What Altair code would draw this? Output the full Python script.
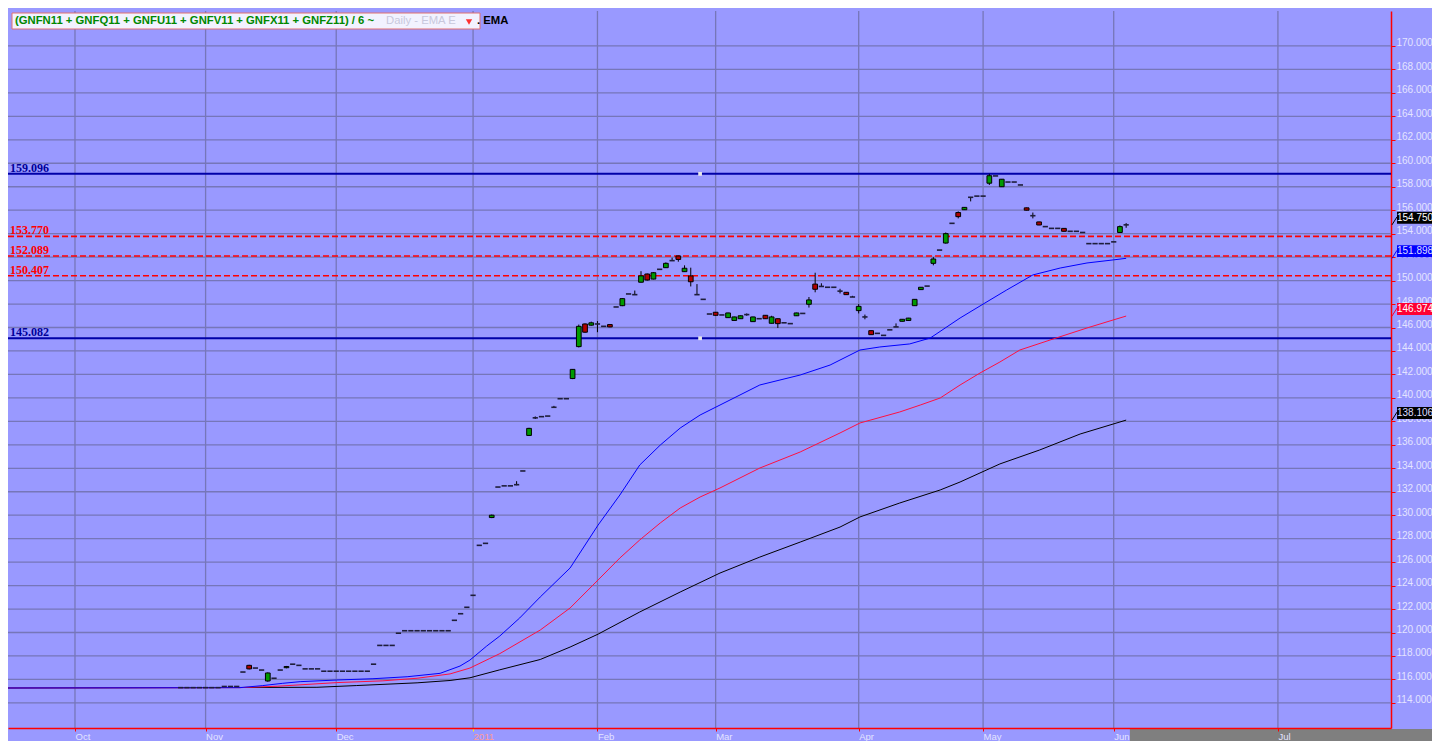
import altair as alt
import pandas as pd

# ---------------- data ----------------
# trading-day index: 0 = 1 Oct 2010 (one slot per trading day)
first_day = 17
c_open = [115.3,115.3,115.3,115.3,115.3,115.3,115.3,115.4,115.4,115.4,
          116.63,117.2,116.97,116.8,115.87,116.1,116.8,117.0,117.3,117.2,
          116.9,116.9,116.9,116.7,116.7,116.7,116.7,116.7,116.7,116.7,
          116.7,117.3,118.9,118.9,118.9,119.94,120.15,120.15,120.15,120.15,
          120.15,120.15,120.15,120.15,121.04,121.6,122.15,123.17,127.43,127.6,
          129.8,132.4,132.5,132.5,132.6,133.77,136.8,138.3,138.4,138.45,
          139.2,139.93,139.93,141.65,144.37,146.3,146.2,146.3,146.1,146.25,
          147.75,147.86,148.86,148.8,149.86,150.56,150.13,150.96,151.1,151.7,
          152.1,150.76,150.4,148.8,148.4,147.15,147.3,147.07,146.84,146.6,
          146.75,147.1,146.5,146.75,147.04,146.36,146.75,146.4,146.33,147.0,
          147.2,147.98,149.7,149.5,149.43,149.43,149.1,149.0,148.6,147.44,
          146.9,145.73,145.5,145.33,145.8,146.05,146.53,146.6,147.86,149.23,
          149.53,151.47,152.6,153.2,154.88,155.8,156.04,157.1,157.2,157.2,
          158.3,158.92,158.0,158.4,158.4,158.15,156.2,155.53,155.0,154.6,
          154.45,154.45,154.45,154.2,154.2,154.1,153.15,153.15,153.15,153.15,
          153.3,154.1,154.75]
c_high = [115.3,115.3,115.3,115.3,115.3,115.3,115.3,115.4,115.4,115.4,
          116.63,117.25,116.97,116.8,116.6,116.1,116.8,117.15,117.3,117.2,
          116.9,116.9,116.9,116.7,116.7,116.7,116.7,116.7,116.7,116.7,
          116.7,117.3,118.9,118.9,118.9,119.94,120.15,120.15,120.15,120.15,
          120.15,120.15,120.15,120.15,121.04,121.6,122.15,123.17,127.43,127.6,
          130.05,132.4,132.5,132.5,132.9,133.77,137.45,138.42,138.4,138.45,
          139.32,139.93,139.93,142.45,146.25,146.35,146.5,146.55,146.1,146.28,
          147.75,148.5,148.86,149.15,150.8,150.6,150.72,150.96,151.55,151.95,
          152.12,151.3,151.1,149.7,148.4,147.15,147.32,147.07,147.26,146.92,
          147.02,147.2,146.92,146.75,147.06,147.0,146.77,146.4,146.33,147.26,
          147.2,148.6,150.67,149.77,149.43,149.43,149.3,149.02,148.7,148.0,
          147.1,145.75,145.5,145.33,145.8,146.35,146.72,146.82,148.42,149.45,
          149.53,152.0,152.6,154.1,154.88,155.9,156.26,157.1,157.2,157.2,
          159.1,158.92,158.66,158.4,158.4,158.15,156.22,155.8,155.02,154.6,
          154.45,154.45,154.47,154.2,154.2,154.1,153.15,153.15,153.15,153.15,
          153.3,154.7,154.9]
c_low = [115.3,115.3,115.3,115.3,115.3,115.3,115.3,115.4,115.4,115.4,
         116.63,116.85,116.97,116.8,115.8,116.1,116.8,116.95,117.3,117.2,
         116.9,116.9,116.9,116.7,116.7,116.7,116.7,116.7,116.7,116.7,
         116.7,117.3,118.9,118.9,118.9,119.94,120.15,120.15,120.15,120.15,
         120.15,120.15,120.15,120.15,121.04,121.6,122.15,123.17,127.43,127.6,
         129.75,132.4,132.5,132.5,132.55,133.77,136.75,138.2,138.4,138.45,
         139.2,139.93,139.93,141.6,144.3,145.55,146.15,145.6,146.1,146.02,
         147.75,147.82,148.86,148.8,149.84,150.0,150.1,150.96,151.08,151.7,
         151.61,150.74,149.5,148.8,148.4,147.15,147.02,147.07,146.82,146.58,
         146.73,147.0,146.48,146.75,146.73,146.34,145.96,146.4,146.33,146.98,
         147.2,147.7,149.0,149.5,149.43,149.43,148.9,148.78,148.6,147.2,
         146.7,145.37,145.5,145.33,145.8,146.05,146.51,146.58,147.84,149.21,
         149.53,151.3,152.6,153.15,154.88,155.3,156.02,156.75,157.2,157.2,
         158.15,158.92,157.98,158.4,158.4,158.15,155.98,155.3,154.72,154.6,
         154.45,154.45,154.18,154.2,154.2,154.1,153.15,153.15,153.15,153.15,
         153.3,154.08,154.5]
c_close = [115.3,115.3,115.3,115.3,115.3,115.3,115.3,115.4,115.4,115.4,
           116.63,116.9,116.97,116.8,116.55,116.1,116.8,117.1,117.3,117.2,
           116.9,116.9,116.9,116.7,116.7,116.7,116.7,116.7,116.7,116.7,
           116.7,117.3,118.9,118.9,118.9,119.94,120.15,120.15,120.15,120.15,
           120.15,120.15,120.15,120.15,121.04,121.6,122.15,123.17,127.43,127.6,
           130.0,132.4,132.5,132.5,132.6,133.77,137.4,138.3,138.4,138.45,
           139.2,139.93,139.93,142.43,146.1,145.6,146.4,146.3,146.1,146.05,
           147.75,148.46,148.86,148.8,150.4,150.05,150.67,150.96,151.47,151.7,
           151.8,151.05,149.9,148.8,148.4,147.15,147.04,147.07,147.24,146.9,
           147.0,147.1,146.9,146.75,146.75,146.9,146.33,146.4,146.33,147.24,
           147.2,148.35,149.26,149.5,149.43,149.43,149.1,148.8,148.6,147.8,
           146.9,145.39,145.5,145.33,145.8,146.05,146.7,146.8,148.4,149.43,
           149.53,151.84,152.6,154.0,154.88,155.45,156.24,157.1,157.2,157.2,
           158.94,158.92,158.64,158.4,158.4,158.15,156.0,155.53,154.74,154.6,
           154.45,154.45,154.2,154.2,154.2,154.1,153.15,153.15,153.15,153.15,
           153.3,154.6,154.75]

ema_fast_idx = [-10.8, 26.5, 30.1, 33.4, 36.2, 42.1, 47.9, 53.4, 58.7, 61.9,
                63.5, 66.2, 68.3, 71.5, 74.8, 79.6, 84.1, 87.6, 90.8, 94.1,
                97.3, 100.5, 103.7, 110.1, 116.6, 121.4, 126.2, 129.4, 134.2, 137.5,
                142.3, 146.3, 149.8, 154.0, 158.4, 162.7, 166.9, 169]
ema_fast_val = [115.27, 115.30, 115.47, 115.67, 115.81, 115.95, 116.06, 116.23, 116.52, 117.14,
                117.65, 118.85, 119.70, 121.24, 123.03, 125.5, 129.16, 131.72, 134.28, 135.98,
                137.43, 138.54, 139.39, 141.1, 141.95, 142.8, 144.08, 144.34, 144.6, 145.1,
                146.81, 148.09, 149.2, 150.48, 151.07, 151.5, 151.76, 151.898]
ema_mid_idx = [-10.8, 26.5, 32.5, 42.1, 49.5, 55.0, 60.3, 63.5, 66.7, 68.3,
               74.8, 79.6, 84.1, 87.6, 90.8, 94.1, 97.3, 100.5, 103.7, 110.1,
               116.6, 123.0, 126.2, 132.6, 135.9, 139.1, 142.3, 145.5, 148.7, 151.9,
               156.8, 162.7, 166.9, 169]
ema_mid_val = [115.27, 115.30, 115.42, 115.73, 115.88, 116.1, 116.47, 116.97, 117.79, 118.2,
               120.21, 122.09, 124.48, 126.35, 127.89, 129.34, 130.61, 131.55, 132.32, 134.02,
               135.39, 137.01, 137.86, 138.8, 139.39, 139.99, 141.1, 142.12, 143.06, 144.08,
               144.94, 145.96, 146.64, 146.974]
ema_slow_idx = [-10.8, 38.9, 45.3, 55.0, 60.3, 63.5, 68.3, 74.8, 79.6, 84.1,
                90.8, 97.3, 103.7, 110.1, 116.6, 123.0, 126.2, 132.6, 139.1, 142.3,
                148.7, 155.1, 161.6, 169]
ema_slow_val = [115.27, 115.33, 115.48, 115.71, 115.91, 116.14, 116.82, 117.7, 118.76, 119.86,
                121.75, 123.45, 125.07, 126.43, 127.71, 128.99, 129.85, 131.04, 132.15, 132.83,
                134.37, 135.56, 136.92, 138.106]

levels_blue = [159.096, 145.082]
levels_red = [153.770, 152.089, 150.407]
handle_idx = 100.5
last_vals = [154.750, 151.898, 146.974, 138.106]
last_fill = ["#000000", "#0000FF", "#FF0033", "#000000"]
last_text = ["#FFFFFF", "#DDDDFF", "#FFFFFF", "#DDDDFF"]
month_idx = [0, 21, 42, 64, 84, 103, 126, 146, 167, 193.4]
month_lbl = ["Oct", "Nov", "Dec", "2011", "Feb", "Mar", "Apr", "May", "Jun", "Jul"]
year_idx = 64
price_ticks = list(range(114, 171, 2))
future_start = 169.6
title_main = "(GNFN11 + GNFQ11 + GNFU11 + GNFV11 + GNFX11 + GNFZ11) / 6 ~"
title_faded = "Daily  -  EMA E"
title_tail = ". EMA"

# ---------------- scales / axes ----------------
BG = "#9999FF"
GRID = "#7676B8"
XS = alt.Scale(domain=[-10.77, 211.58], nice=False, zero=False)
YS = alt.Scale(domain=[111.86, 172.98], nice=False, zero=False)
lbl_expr = "".join(f"datum.value == {i} ? '{l}' : " for i, l in zip(month_idx, month_lbl)) + "''"
AX = alt.Axis(values=month_idx, labelExpr=lbl_expr, title=None, grid=False, orient="bottom",
              domainColor="#FF0000", domainWidth=1.5,
              tickColor=alt.expr(f"datum.value == {year_idx} ? '#FFFF00' : '#FF0000'"),
              tickSize=3, labelAlign="left", labelBaseline="top", labelPadding=0,
              labelColor=alt.expr(f"datum.value == {year_idx} ? '#FF9999' : '#E4E4FF'"),
              labelFont="Liberation Sans", labelFontSize=9.5, labelOverlap=False,
              labelFlush=False, zindex=1)
AY = alt.Axis(values=price_ticks, format=".3f", title=None, grid=False, orient="right",
              domainColor="#FF0000", domainWidth=1.5, tickColor="#FF0000", tickSize=4,
              labelPadding=1, labelColor="#E4E4FF", labelFont="Liberation Sans",
              labelFontSize=10, labelOffset=-3, labelAlign="left", labelBaseline="middle",
              labelOverlap=False, labelFlush=False)


def X(f):
    return alt.X(f, type="quantitative", scale=XS, axis=AX)


def Y(f):
    return alt.Y(f, type="quantitative", scale=YS, axis=AY)


# ---------------- layers ----------------
hgrid = alt.Chart(pd.DataFrame({"p": price_ticks})).mark_rule(color=GRID, strokeWidth=1.3).encode(y=Y("p"))
vgrid = alt.Chart(pd.DataFrame({"m": month_idx})).mark_rule(color=GRID, strokeWidth=1.3).encode(x=X("m"))

gray = alt.Chart(pd.DataFrame({"s": [future_start]})).mark_rect(color="#7F7F7F").encode(
    x=X("s"), x2=alt.value(1460), y=alt.value(718), y2=alt.value(745))

lv_blue = alt.Chart(pd.DataFrame({"v": levels_blue})).mark_rule(color="#0000A8", strokeWidth=2).encode(y=Y("v"))
lv_red = alt.Chart(pd.DataFrame({"v": levels_red})).mark_rule(
    color="#FF0000", strokeWidth=1.6, strokeDash=[6, 3]).encode(y=Y("v"))
handles = alt.Chart(pd.DataFrame({"v": levels_blue, "i": [handle_idx] * 2})).mark_square(
    size=14, color="#E6E6E6", opacity=1).encode(x=X("i"), y=Y("v"))

ema_df = pd.concat([
    pd.DataFrame({"s": "fast", "i": ema_fast_idx, "v": ema_fast_val}),
    pd.DataFrame({"s": "mid", "i": ema_mid_idx, "v": ema_mid_val}),
    pd.DataFrame({"s": "slow", "i": ema_slow_idx, "v": ema_slow_val}),
])
ema_base = alt.Chart(ema_df)
ema_slow = ema_base.transform_filter("datum.s == 'slow'").mark_line(color="#000000", strokeWidth=1, clip=True).encode(x=X("i"), y=Y("v"))
ema_mid = ema_base.transform_filter("datum.s == 'mid'").mark_line(color="#FF1040", strokeWidth=1, clip=True).encode(x=X("i"), y=Y("v"))
ema_fast = ema_base.transform_filter("datum.s == 'fast'").mark_line(color="#0000FF", strokeWidth=1, clip=True).encode(x=X("i"), y=Y("v"))

cdf = pd.DataFrame({"idx": [first_day + k for k in range(len(c_open))],
                    "o": c_open, "h": c_high, "l": c_low, "c": c_close})
cb = alt.Chart(cdf).transform_calculate(x0="datum.idx - 0.38", x1="datum.idx + 0.38",
                                         d0="datum.idx - 0.42", d1="datum.idx + 0.42")
wicks = cb.transform_filter("datum.h > datum.l").mark_rule(color="#000000", strokeWidth=1).encode(
    x=X("idx"), y=Y("l"), y2="h:Q")
bodies = cb.transform_filter("datum.c != datum.o").mark_rect(stroke="#000000", strokeWidth=1).encode(
    x=X("x0"), x2="x1:Q", y=Y("o"), y2="c:Q",
    color=alt.condition("datum.c > datum.o", alt.value("#009A00"), alt.value("#B00000")))
dashes = cb.transform_filter("datum.c == datum.o").mark_rule(color="#1E1E3A", strokeWidth=1.6).encode(
    x=X("d0"), x2="d1:Q", y=Y("c"))

lbl_blue = alt.Chart(pd.DataFrame({"v": levels_blue})).mark_text(
    align="left", baseline="middle", dy=-6, font="Liberation Serif", fontWeight="bold",
    fontSize=12, color="#000099").encode(x=alt.value(2), y=Y("v"), text=alt.Text("v:Q", format=".3f"))
lbl_red = alt.Chart(pd.DataFrame({"v": levels_red})).mark_text(
    align="left", baseline="middle", dy=-6, font="Liberation Serif", fontWeight="bold",
    fontSize=12, color="#FF0000").encode(x=alt.value(2), y=Y("v"), text=alt.Text("v:Q", format=".3f"))

ldf = pd.DataFrame({"v": last_vals, "f": last_fill, "t": last_text})
lbox = alt.Chart(ldf).mark_rect(yOffset=-13, y2Offset=-1).encode(
    x=alt.value(1389), x2=alt.value(1460), y=Y("v"), y2="v:Q", color=alt.Color("f:N", scale=None))
lconn = alt.Chart(ldf).mark_rule(strokeWidth=1, y2Offset=-8).encode(
    x=alt.value(1384), x2=alt.value(1389), y=Y("v"), y2="v:Q", color=alt.Color("f:N", scale=None))
ltext = alt.Chart(ldf).mark_text(align="left", baseline="middle", dy=-7, font="Liberation Sans",
                                 fontSize=10).encode(
    x=alt.value(1389), y=Y("v"), text=alt.Text("v:Q", format=".3f"), color=alt.Color("t:N", scale=None))

tdf = pd.DataFrame({"a": [title_main], "b": [title_faded], "c": [title_tail]})
tbox = alt.Chart(tdf).mark_rect(fill="#F2F2FF", stroke="#E07070", strokeWidth=1).encode(
    x=alt.value(4), x2=alt.value(472), y=alt.value(2), y2=alt.value(18))
t1 = alt.Chart(tdf).mark_text(align="left", baseline="middle", font="Liberation Sans", fontWeight="bold",
                              fontSize=11.3, color="#008800").encode(x=alt.value(7), y=alt.value(10), text="a:N")
t2 = alt.Chart(tdf).mark_text(align="left", baseline="middle", font="Liberation Sans",
                              fontSize=11.3, color="#C8C8DC").encode(x=alt.value(378), y=alt.value(10), text="b:N")
tri = alt.Chart(tdf).mark_point(shape="triangle-down", filled=True, color="#FF3030", size=40, opacity=1).encode(
    x=alt.value(461), y=alt.value(11))
t3 = alt.Chart(tdf).mark_text(align="left", baseline="middle", font="Liberation Sans", fontWeight="bold",
                              fontSize=11.3, color="#000000").encode(x=alt.value(469), y=alt.value(10), text="c:N")

chart = alt.layer(
    hgrid, vgrid, gray, lv_blue, lv_red, handles,
    ema_slow, ema_mid, ema_fast, wicks, bodies, dashes,
    lbl_blue, lbl_red, lconn, lbox, ltext, tbox, t1, t2, tri, t3,
).properties(
    width=1383, height=717,
    padding={"left": 0, "top": 3, "right": 41, "bottom": 13},
    autosize=alt.AutoSizeParams(type="none"),
    background=BG,
).configure_view(stroke=None, fill=BG)

chart.save("out.html", embed_options={"renderer": "svg", "actions": False})
